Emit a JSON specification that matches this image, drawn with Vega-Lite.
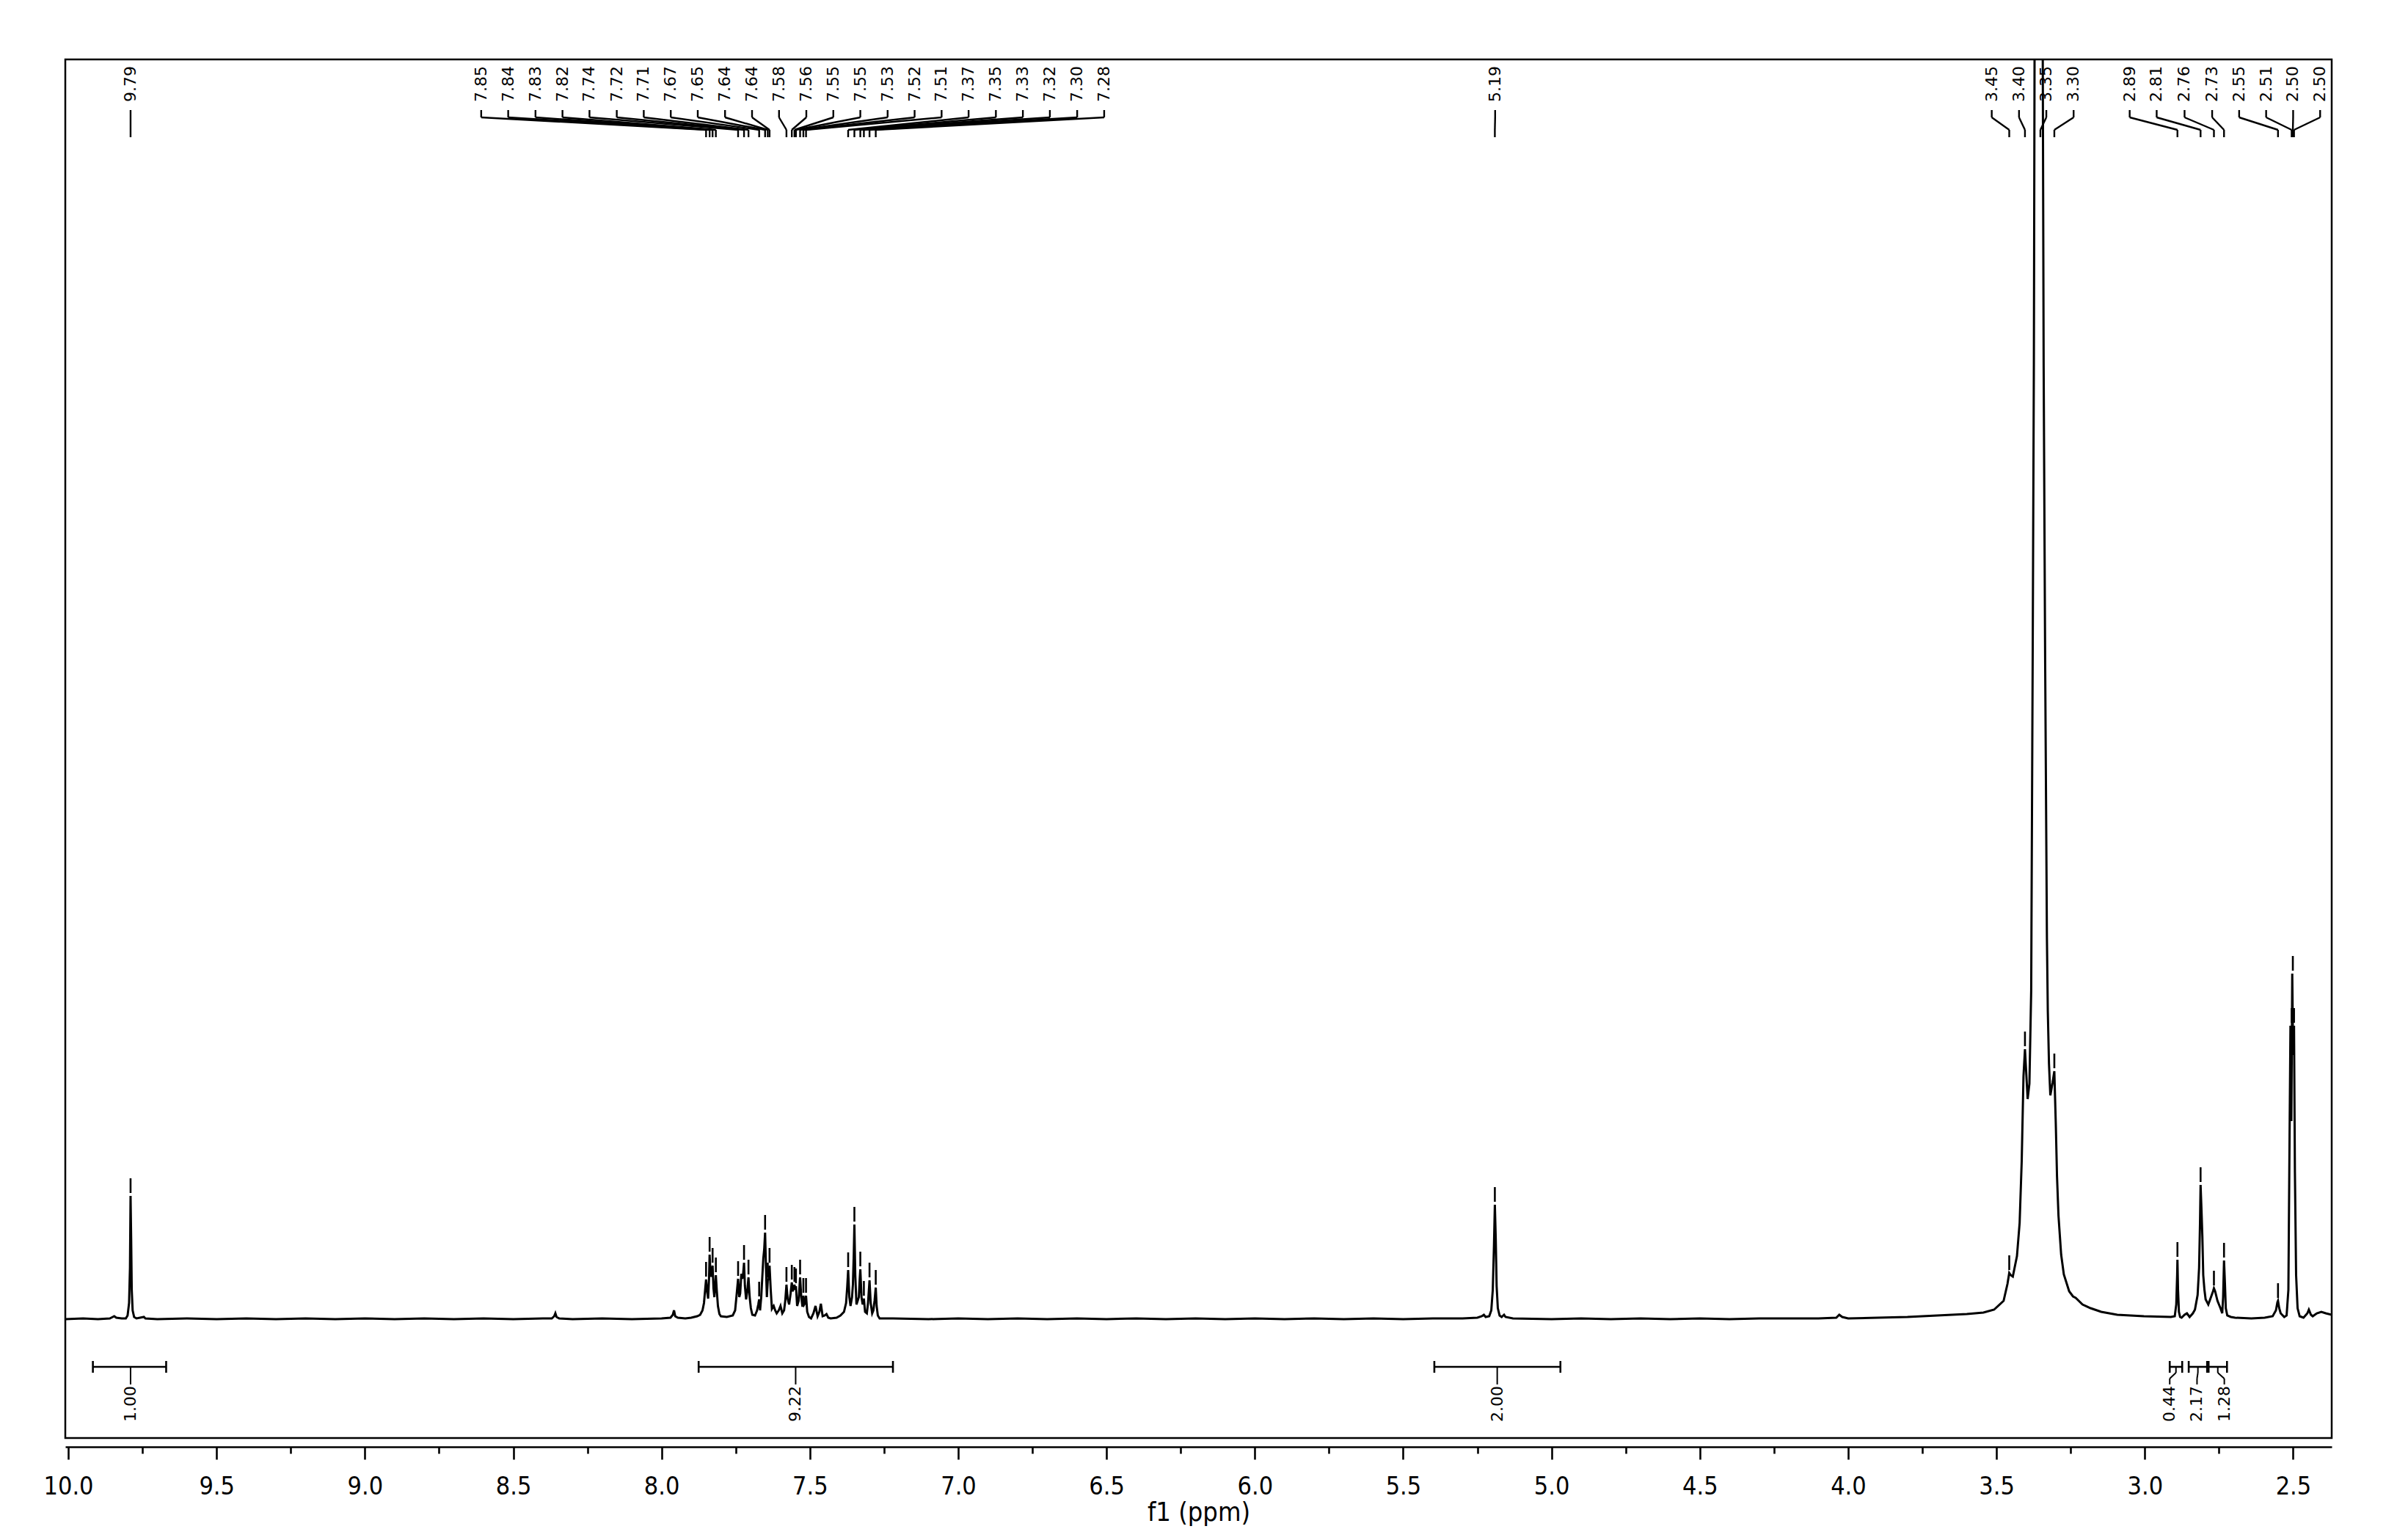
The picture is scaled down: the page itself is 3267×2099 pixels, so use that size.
{
  "$schema": "https://vega.github.io/schema/vega-lite/v6.json",
  "width": 3089,
  "height": 1879,
  "autosize": {"type": "none"},
  "padding": {"left": 89, "top": 81, "right": 89, "bottom": 139},
  "background": "white",
  "config": {
    "view": {"stroke": "black", "strokeWidth": 2.5}
  },
  "datasets": {
    "spectrum": [
      {"ppm": 10.01, "intensity": 0}, {"ppm": 9.95, "intensity": 1}, {"ppm": 9.9, "intensity": 0}, {"ppm": 9.86, "intensity": 1},
      {"ppm": 9.845, "intensity": 4}, {"ppm": 9.838, "intensity": 2}, {"ppm": 9.82, "intensity": 1}, {"ppm": 9.806, "intensity": 1},
      {"ppm": 9.8, "intensity": 5}, {"ppm": 9.795, "intensity": 22}, {"ppm": 9.792, "intensity": 70}, {"ppm": 9.79, "intensity": 168},
      {"ppm": 9.788, "intensity": 110}, {"ppm": 9.786, "intensity": 40}, {"ppm": 9.783, "intensity": 12}, {"ppm": 9.778, "intensity": 3},
      {"ppm": 9.77, "intensity": 1}, {"ppm": 9.745, "intensity": 3}, {"ppm": 9.74, "intensity": 1}, {"ppm": 9.7, "intensity": 0},
      {"ppm": 9.6, "intensity": 1}, {"ppm": 9.5, "intensity": 0}, {"ppm": 9.4, "intensity": 1}, {"ppm": 9.3, "intensity": 0},
      {"ppm": 9.2, "intensity": 1}, {"ppm": 9.1, "intensity": 0}, {"ppm": 9.0, "intensity": 1}, {"ppm": 8.9, "intensity": 0},
      {"ppm": 8.8, "intensity": 1}, {"ppm": 8.7, "intensity": 0}, {"ppm": 8.6, "intensity": 1}, {"ppm": 8.5, "intensity": 0},
      {"ppm": 8.4, "intensity": 1}, {"ppm": 8.37, "intensity": 1}, {"ppm": 8.362, "intensity": 4}, {"ppm": 8.358, "intensity": 8},
      {"ppm": 8.354, "intensity": 3}, {"ppm": 8.345, "intensity": 1}, {"ppm": 8.3, "intensity": 0}, {"ppm": 8.2, "intensity": 1},
      {"ppm": 8.1, "intensity": 0}, {"ppm": 8.0, "intensity": 1}, {"ppm": 7.97, "intensity": 2}, {"ppm": 7.962, "intensity": 6},
      {"ppm": 7.958, "intensity": 12}, {"ppm": 7.954, "intensity": 4}, {"ppm": 7.945, "intensity": 2}, {"ppm": 7.92, "intensity": 1},
      {"ppm": 7.9, "intensity": 2}, {"ppm": 7.88, "intensity": 4}, {"ppm": 7.87, "intensity": 6}, {"ppm": 7.862, "intensity": 12},
      {"ppm": 7.857, "intensity": 22}, {"ppm": 7.852, "intensity": 45}, {"ppm": 7.85, "intensity": 54}, {"ppm": 7.847, "intensity": 40},
      {"ppm": 7.843, "intensity": 28}, {"ppm": 7.84, "intensity": 55}, {"ppm": 7.838, "intensity": 88}, {"ppm": 7.835, "intensity": 62},
      {"ppm": 7.832, "intensity": 58}, {"ppm": 7.828, "intensity": 73}, {"ppm": 7.825, "intensity": 42}, {"ppm": 7.822, "intensity": 30},
      {"ppm": 7.819, "intensity": 48}, {"ppm": 7.817, "intensity": 60}, {"ppm": 7.814, "intensity": 40}, {"ppm": 7.81, "intensity": 18},
      {"ppm": 7.805, "intensity": 7}, {"ppm": 7.8, "intensity": 4}, {"ppm": 7.78, "intensity": 3}, {"ppm": 7.76, "intensity": 5},
      {"ppm": 7.752, "intensity": 12}, {"ppm": 7.747, "intensity": 33}, {"ppm": 7.742, "intensity": 55}, {"ppm": 7.738, "intensity": 30},
      {"ppm": 7.735, "intensity": 35}, {"ppm": 7.731, "intensity": 62}, {"ppm": 7.728, "intensity": 55}, {"ppm": 7.725, "intensity": 62},
      {"ppm": 7.722, "intensity": 77}, {"ppm": 7.719, "intensity": 45}, {"ppm": 7.715, "intensity": 27}, {"ppm": 7.711, "intensity": 38},
      {"ppm": 7.707, "intensity": 57}, {"ppm": 7.703, "intensity": 30}, {"ppm": 7.699, "intensity": 15}, {"ppm": 7.694, "intensity": 6},
      {"ppm": 7.685, "intensity": 5}, {"ppm": 7.678, "intensity": 12}, {"ppm": 7.674, "intensity": 20}, {"ppm": 7.671, "intensity": 27},
      {"ppm": 7.668, "intensity": 12}, {"ppm": 7.664, "intensity": 30}, {"ppm": 7.661, "intensity": 53}, {"ppm": 7.657, "intensity": 83},
      {"ppm": 7.654, "intensity": 95}, {"ppm": 7.651, "intensity": 118}, {"ppm": 7.648, "intensity": 70}, {"ppm": 7.645, "intensity": 30},
      {"ppm": 7.642, "intensity": 53}, {"ppm": 7.639, "intensity": 55}, {"ppm": 7.636, "intensity": 73}, {"ppm": 7.632, "intensity": 40},
      {"ppm": 7.628, "intensity": 14}, {"ppm": 7.622, "intensity": 18}, {"ppm": 7.617, "intensity": 12}, {"ppm": 7.612, "intensity": 8},
      {"ppm": 7.605, "intensity": 12}, {"ppm": 7.599, "intensity": 18}, {"ppm": 7.593, "intensity": 8}, {"ppm": 7.587, "intensity": 12},
      {"ppm": 7.583, "intensity": 25}, {"ppm": 7.579, "intensity": 47}, {"ppm": 7.575, "intensity": 28}, {"ppm": 7.57, "intensity": 20},
      {"ppm": 7.565, "intensity": 35}, {"ppm": 7.561, "intensity": 50}, {"ppm": 7.558, "intensity": 38}, {"ppm": 7.555, "intensity": 42},
      {"ppm": 7.552, "intensity": 47}, {"ppm": 7.549, "intensity": 40}, {"ppm": 7.547, "intensity": 45}, {"ppm": 7.543, "intensity": 18},
      {"ppm": 7.538, "intensity": 25}, {"ppm": 7.533, "intensity": 57}, {"ppm": 7.529, "intensity": 30}, {"ppm": 7.525, "intensity": 17},
      {"ppm": 7.522, "intensity": 32}, {"ppm": 7.519, "intensity": 20}, {"ppm": 7.516, "intensity": 22}, {"ppm": 7.513, "intensity": 32},
      {"ppm": 7.509, "intensity": 10}, {"ppm": 7.503, "intensity": 3}, {"ppm": 7.496, "intensity": 1}, {"ppm": 7.488, "intensity": 8},
      {"ppm": 7.481, "intensity": 18}, {"ppm": 7.474, "intensity": 4}, {"ppm": 7.468, "intensity": 10}, {"ppm": 7.463, "intensity": 21},
      {"ppm": 7.457, "intensity": 4}, {"ppm": 7.45, "intensity": 5}, {"ppm": 7.444, "intensity": 7}, {"ppm": 7.438, "intensity": 2},
      {"ppm": 7.43, "intensity": 1}, {"ppm": 7.41, "intensity": 2}, {"ppm": 7.397, "intensity": 5}, {"ppm": 7.385, "intensity": 10},
      {"ppm": 7.378, "intensity": 22}, {"ppm": 7.374, "intensity": 45}, {"ppm": 7.371, "intensity": 67}, {"ppm": 7.367, "intensity": 30},
      {"ppm": 7.363, "intensity": 18}, {"ppm": 7.358, "intensity": 30}, {"ppm": 7.355, "intensity": 47}, {"ppm": 7.352, "intensity": 90},
      {"ppm": 7.35, "intensity": 129}, {"ppm": 7.347, "intensity": 60}, {"ppm": 7.343, "intensity": 20}, {"ppm": 7.339, "intensity": 25},
      {"ppm": 7.335, "intensity": 30}, {"ppm": 7.332, "intensity": 55}, {"ppm": 7.33, "intensity": 68}, {"ppm": 7.326, "intensity": 30},
      {"ppm": 7.322, "intensity": 20}, {"ppm": 7.318, "intensity": 28}, {"ppm": 7.314, "intensity": 10}, {"ppm": 7.308, "intensity": 8},
      {"ppm": 7.304, "intensity": 22}, {"ppm": 7.299, "intensity": 53}, {"ppm": 7.295, "intensity": 22}, {"ppm": 7.29, "intensity": 8},
      {"ppm": 7.286, "intensity": 12}, {"ppm": 7.282, "intensity": 25}, {"ppm": 7.278, "intensity": 43}, {"ppm": 7.275, "intensity": 18},
      {"ppm": 7.271, "intensity": 5}, {"ppm": 7.265, "intensity": 1}, {"ppm": 7.22, "intensity": 1}, {"ppm": 7.1, "intensity": 0},
      {"ppm": 7.0, "intensity": 1}, {"ppm": 6.9, "intensity": 0}, {"ppm": 6.8, "intensity": 1}, {"ppm": 6.7, "intensity": 0},
      {"ppm": 6.6, "intensity": 1}, {"ppm": 6.5, "intensity": 0}, {"ppm": 6.4, "intensity": 1}, {"ppm": 6.3, "intensity": 0},
      {"ppm": 6.2, "intensity": 1}, {"ppm": 6.1, "intensity": 0}, {"ppm": 6.0, "intensity": 1}, {"ppm": 5.9, "intensity": 0},
      {"ppm": 5.8, "intensity": 1}, {"ppm": 5.7, "intensity": 0}, {"ppm": 5.6, "intensity": 1}, {"ppm": 5.5, "intensity": 0},
      {"ppm": 5.4, "intensity": 1}, {"ppm": 5.3, "intensity": 1}, {"ppm": 5.25, "intensity": 2}, {"ppm": 5.235, "intensity": 4},
      {"ppm": 5.228, "intensity": 6}, {"ppm": 5.222, "intensity": 3}, {"ppm": 5.21, "intensity": 4}, {"ppm": 5.203, "intensity": 12},
      {"ppm": 5.198, "intensity": 40}, {"ppm": 5.194, "intensity": 100}, {"ppm": 5.191, "intensity": 156}, {"ppm": 5.188, "intensity": 110},
      {"ppm": 5.185, "intensity": 45}, {"ppm": 5.181, "intensity": 15}, {"ppm": 5.175, "intensity": 5}, {"ppm": 5.168, "intensity": 3},
      {"ppm": 5.16, "intensity": 6}, {"ppm": 5.155, "intensity": 3}, {"ppm": 5.13, "intensity": 1}, {"ppm": 5.0, "intensity": 0},
      {"ppm": 4.9, "intensity": 1}, {"ppm": 4.8, "intensity": 0}, {"ppm": 4.7, "intensity": 1}, {"ppm": 4.6, "intensity": 0},
      {"ppm": 4.5, "intensity": 1}, {"ppm": 4.4, "intensity": 0}, {"ppm": 4.3, "intensity": 1}, {"ppm": 4.2, "intensity": 1},
      {"ppm": 4.1, "intensity": 1}, {"ppm": 4.04, "intensity": 2}, {"ppm": 4.03, "intensity": 6}, {"ppm": 4.02, "intensity": 3},
      {"ppm": 4.0, "intensity": 1}, {"ppm": 3.9, "intensity": 2}, {"ppm": 3.8, "intensity": 3}, {"ppm": 3.75, "intensity": 4},
      {"ppm": 3.7, "intensity": 5}, {"ppm": 3.65, "intensity": 6}, {"ppm": 3.6, "intensity": 7}, {"ppm": 3.544, "intensity": 9},
      {"ppm": 3.508, "intensity": 13}, {"ppm": 3.476, "intensity": 25}, {"ppm": 3.463, "intensity": 48}, {"ppm": 3.457, "intensity": 63},
      {"ppm": 3.452, "intensity": 60}, {"ppm": 3.445, "intensity": 58}, {"ppm": 3.431, "intensity": 86}, {"ppm": 3.422, "intensity": 131},
      {"ppm": 3.415, "intensity": 215}, {"ppm": 3.409, "intensity": 331}, {"ppm": 3.404, "intensity": 368}, {"ppm": 3.4, "intensity": 338},
      {"ppm": 3.395, "intensity": 300}, {"ppm": 3.389, "intensity": 321}, {"ppm": 3.383, "intensity": 448}, {"ppm": 3.378, "intensity": 900},
      {"ppm": 3.374, "intensity": 1300}, {"ppm": 3.369, "intensity": 2200}, {"ppm": 3.363, "intensity": 3500}, {"ppm": 3.357, "intensity": 4500},
      {"ppm": 3.351, "intensity": 3500}, {"ppm": 3.346, "intensity": 2000}, {"ppm": 3.341, "intensity": 1300}, {"ppm": 3.336, "intensity": 900},
      {"ppm": 3.33, "intensity": 520}, {"ppm": 3.327, "intensity": 420}, {"ppm": 3.323, "intensity": 348}, {"ppm": 3.3185, "intensity": 305},
      {"ppm": 3.311, "intensity": 322}, {"ppm": 3.305, "intensity": 338}, {"ppm": 3.3, "intensity": 265}, {"ppm": 3.296, "intensity": 195},
      {"ppm": 3.291, "intensity": 141}, {"ppm": 3.282, "intensity": 88}, {"ppm": 3.273, "intensity": 61}, {"ppm": 3.255, "intensity": 38},
      {"ppm": 3.242, "intensity": 31}, {"ppm": 3.233, "intensity": 29}, {"ppm": 3.21, "intensity": 20}, {"ppm": 3.183, "intensity": 15},
      {"ppm": 3.147, "intensity": 10}, {"ppm": 3.093, "intensity": 6}, {"ppm": 3.003, "intensity": 4}, {"ppm": 2.912, "intensity": 3},
      {"ppm": 2.899, "intensity": 4}, {"ppm": 2.894, "intensity": 20}, {"ppm": 2.891, "intensity": 60}, {"ppm": 2.89, "intensity": 81},
      {"ppm": 2.888, "intensity": 40}, {"ppm": 2.885, "intensity": 10}, {"ppm": 2.881, "intensity": 3}, {"ppm": 2.876, "intensity": 2},
      {"ppm": 2.866, "intensity": 6}, {"ppm": 2.858, "intensity": 8}, {"ppm": 2.849, "intensity": 3}, {"ppm": 2.838, "intensity": 8},
      {"ppm": 2.831, "intensity": 13}, {"ppm": 2.822, "intensity": 33}, {"ppm": 2.817, "intensity": 70}, {"ppm": 2.814, "intensity": 130},
      {"ppm": 2.812, "intensity": 183}, {"ppm": 2.809, "intensity": 150}, {"ppm": 2.806, "intensity": 113}, {"ppm": 2.803, "intensity": 60},
      {"ppm": 2.799, "intensity": 40}, {"ppm": 2.795, "intensity": 27}, {"ppm": 2.786, "intensity": 20}, {"ppm": 2.777, "intensity": 30},
      {"ppm": 2.77, "intensity": 38}, {"ppm": 2.767, "intensity": 42}, {"ppm": 2.763, "intensity": 38}, {"ppm": 2.755, "intensity": 25},
      {"ppm": 2.745, "intensity": 15}, {"ppm": 2.739, "intensity": 8}, {"ppm": 2.736, "intensity": 30}, {"ppm": 2.733, "intensity": 80},
      {"ppm": 2.73, "intensity": 50}, {"ppm": 2.727, "intensity": 15}, {"ppm": 2.722, "intensity": 5}, {"ppm": 2.71, "intensity": 3},
      {"ppm": 2.696, "intensity": 2}, {"ppm": 2.641, "intensity": 1}, {"ppm": 2.596, "intensity": 2}, {"ppm": 2.569, "intensity": 4},
      {"ppm": 2.558, "intensity": 12}, {"ppm": 2.553, "intensity": 23}, {"ppm": 2.551, "intensity": 25}, {"ppm": 2.547, "intensity": 15},
      {"ppm": 2.542, "intensity": 8}, {"ppm": 2.53, "intensity": 3}, {"ppm": 2.522, "intensity": 5}, {"ppm": 2.516, "intensity": 40},
      {"ppm": 2.512, "intensity": 250}, {"ppm": 2.509, "intensity": 400}, {"ppm": 2.506, "intensity": 270}, {"ppm": 2.503, "intensity": 471},
      {"ppm": 2.5, "intensity": 360}, {"ppm": 2.497, "intensity": 400}, {"ppm": 2.494, "intensity": 200}, {"ppm": 2.49, "intensity": 60},
      {"ppm": 2.485, "intensity": 15}, {"ppm": 2.478, "intensity": 4}, {"ppm": 2.465, "intensity": 2}, {"ppm": 2.452, "intensity": 8},
      {"ppm": 2.447, "intensity": 13}, {"ppm": 2.44, "intensity": 6}, {"ppm": 2.434, "intensity": 4}, {"ppm": 2.42, "intensity": 8},
      {"ppm": 2.405, "intensity": 10}, {"ppm": 2.39, "intensity": 8}, {"ppm": 2.37, "intensity": 6}
    ],
    "peaks": [
      {"label": "9.79", "lx": 9.79, "px": 9.79, "top": 168},
      {"label": "7.85", "lx": 8.608, "px": 7.85, "top": 54},
      {"label": "7.84", "lx": 8.517, "px": 7.838, "top": 88},
      {"label": "7.83", "lx": 8.425, "px": 7.828, "top": 73},
      {"label": "7.82", "lx": 8.334, "px": 7.817, "top": 60},
      {"label": "7.74", "lx": 8.243, "px": 7.742, "top": 55},
      {"label": "7.72", "lx": 8.151, "px": 7.722, "top": 77},
      {"label": "7.71", "lx": 8.06, "px": 7.707, "top": 57},
      {"label": "7.67", "lx": 7.969, "px": 7.671, "top": 27},
      {"label": "7.65", "lx": 7.878, "px": 7.651, "top": 118},
      {"label": "7.64", "lx": 7.786, "px": 7.642, "top": 53},
      {"label": "7.64", "lx": 7.695, "px": 7.636, "top": 73},
      {"label": "7.58", "lx": 7.604, "px": 7.579, "top": 47},
      {"label": "7.56", "lx": 7.512, "px": 7.561, "top": 50},
      {"label": "7.55", "lx": 7.421, "px": 7.552, "top": 47},
      {"label": "7.55", "lx": 7.33, "px": 7.547, "top": 45},
      {"label": "7.53", "lx": 7.238, "px": 7.533, "top": 57},
      {"label": "7.52", "lx": 7.147, "px": 7.522, "top": 32},
      {"label": "7.51", "lx": 7.056, "px": 7.513, "top": 32},
      {"label": "7.37", "lx": 6.965, "px": 7.371, "top": 67},
      {"label": "7.35", "lx": 6.873, "px": 7.35, "top": 129},
      {"label": "7.33", "lx": 6.782, "px": 7.33, "top": 68},
      {"label": "7.32", "lx": 6.691, "px": 7.318, "top": 28},
      {"label": "7.30", "lx": 6.599, "px": 7.299, "top": 53},
      {"label": "7.28", "lx": 6.508, "px": 7.278, "top": 43},
      {"label": "5.19", "lx": 5.19, "px": 5.191, "top": 156},
      {"label": "3.45", "lx": 3.516, "px": 3.457, "top": 63},
      {"label": "3.40", "lx": 3.424, "px": 3.404, "top": 368},
      {"label": "3.35", "lx": 3.332, "px": 3.352, "top": 4000},
      {"label": "3.30", "lx": 3.24, "px": 3.305, "top": 338},
      {"label": "2.89", "lx": 3.051, "px": 2.89, "top": 81},
      {"label": "2.81", "lx": 2.96, "px": 2.812, "top": 183},
      {"label": "2.76", "lx": 2.866, "px": 2.767, "top": 42},
      {"label": "2.73", "lx": 2.773, "px": 2.733, "top": 80},
      {"label": "2.55", "lx": 2.682, "px": 2.551, "top": 25},
      {"label": "2.51", "lx": 2.591, "px": 2.505, "top": 400},
      {"label": "2.50", "lx": 2.5, "px": 2.501, "top": 471},
      {"label": "2.50", "lx": 2.409, "px": 2.497, "top": 400}
    ],
    "integrals": [
      {"label": "1.00", "from": 9.917, "to": 9.67, "cx": 9.79, "lx": 9.79},
      {"label": "9.22", "from": 7.875, "to": 7.22, "cx": 7.548, "lx": 7.548},
      {"label": "2.00", "from": 5.395, "to": 4.97, "cx": 5.183, "lx": 5.183},
      {"label": "0.44", "from": 2.916, "to": 2.874, "cx": 2.895, "lx": 2.916},
      {"label": "2.17", "from": 2.852, "to": 2.79, "cx": 2.821, "lx": 2.824},
      {"label": "1.28", "from": 2.785, "to": 2.723, "cx": 2.754, "lx": 2.732}
    ]
  },
  "layer": [
    {
      "data": {"name": "spectrum"},
      "mark": {"type": "line", "color": "black", "strokeWidth": 3, "clip": true, "interpolate": "linear"},
      "encoding": {
        "x": {
          "field": "ppm", "type": "quantitative", "title": "f1 (ppm)",
          "scale": {"domain": [2.37, 10.01], "reverse": true, "nice": false, "zero": false},
          "axis": {
            "values": [2.5, 2.75, 3.0, 3.25, 3.5, 3.75, 4.0, 4.25, 4.5, 4.75, 5.0, 5.25, 5.5, 5.75, 6.0, 6.25, 6.5, 6.75, 7.0, 7.25, 7.5, 7.75, 8.0, 8.25, 8.5, 8.75, 9.0, 9.25, 9.5, 9.75, 10.0],
            "labelExpr": "abs(datum.value * 2 - round(datum.value * 2)) < 0.001 ? format(datum.value, '.1f') : ''",
            "offset": 12,
            "grid": false,
            "domainColor": "black", "domainWidth": 2.6,
            "tickColor": "black", "tickWidth": 2.6,
            "tickSize": {"condition": {"test": "abs(datum.value * 2 - round(datum.value * 2)) < 0.001", "value": 17}, "value": 9},
            "labelPadding": 20,
            "labelFont": "DejaVu Sans Condensed, DejaVu Sans", "labelFontSize": 34, "labelColor": "black",
            "labelOverlap": false, "labelFlush": false,
            "titleFont": "DejaVu Sans Condensed, DejaVu Sans", "titleFontSize": 36, "titleFontWeight": "normal", "titleColor": "black",
            "titlePadding": 1
          }
        },
        "y": {"field": "intensity", "type": "quantitative", "scale": {"domain": [-162, 1717], "nice": false, "zero": false}, "axis": null}
      }
    },
    {
      "data": {"name": "peaks"},
      "mark": {"type": "rule", "color": "black", "strokeWidth": 2.6, "yOffset": -4, "y2Offset": -24, "clip": true},
      "encoding": {
        "x": {"field": "px", "type": "quantitative", "title": "f1 (ppm)"},
        "y": {"field": "top", "type": "quantitative", "axis": null},
        "y2": {"field": "top"}
      }
    },
    {
      "data": {"name": "peaks"},
      "mark": {"type": "rule", "color": "black", "strokeWidth": 2.4},
      "encoding": {
        "x": {"field": "lx", "type": "quantitative", "title": "f1 (ppm)"},
        "y": {"datum": 1648, "type": "quantitative", "axis": null},
        "y2": {"datum": 1638}
      }
    },
    {
      "data": {"name": "peaks"},
      "mark": {"type": "rule", "color": "black", "strokeWidth": 2.4},
      "encoding": {
        "x": {"field": "lx", "type": "quantitative", "title": "f1 (ppm)"},
        "x2": {"field": "px"},
        "y": {"datum": 1638, "type": "quantitative", "axis": null},
        "y2": {"datum": 1621}
      }
    },
    {
      "data": {"name": "peaks"},
      "mark": {"type": "rule", "color": "black", "strokeWidth": 2.4},
      "encoding": {
        "x": {"field": "px", "type": "quantitative", "title": "f1 (ppm)"},
        "y": {"datum": 1621, "type": "quantitative", "axis": null},
        "y2": {"datum": 1611}
      }
    },
    {
      "data": {"name": "peaks"},
      "mark": {"type": "text", "angle": 270, "align": "left", "baseline": "middle", "font": "DejaVu Sans", "fontSize": 22, "color": "black"},
      "encoding": {
        "x": {"field": "lx", "type": "quantitative", "title": "f1 (ppm)"},
        "y": {"datum": 1659, "type": "quantitative", "axis": null},
        "text": {"field": "label"}
      }
    },
    {
      "data": {"name": "integrals"},
      "mark": {"type": "rule", "color": "black", "strokeWidth": 2.6},
      "encoding": {
        "x": {"field": "from", "type": "quantitative", "title": "f1 (ppm)"},
        "x2": {"field": "to"},
        "y": {"datum": -65, "type": "quantitative", "axis": null}
      }
    },
    {
      "data": {"name": "integrals"},
      "mark": {"type": "rule", "color": "black", "strokeWidth": 2.6},
      "encoding": {
        "x": {"field": "from", "type": "quantitative", "title": "f1 (ppm)"},
        "y": {"datum": -57, "type": "quantitative", "axis": null},
        "y2": {"datum": -73}
      }
    },
    {
      "data": {"name": "integrals"},
      "mark": {"type": "rule", "color": "black", "strokeWidth": 2.6},
      "encoding": {
        "x": {"field": "to", "type": "quantitative", "title": "f1 (ppm)"},
        "y": {"datum": -57, "type": "quantitative", "axis": null},
        "y2": {"datum": -73}
      }
    },
    {
      "data": {"name": "integrals"},
      "mark": {"type": "rule", "color": "black", "strokeWidth": 2},
      "encoding": {
        "x": {"field": "cx", "type": "quantitative", "title": "f1 (ppm)"},
        "y": {"datum": -65, "type": "quantitative", "axis": null},
        "y2": {"datum": -73}
      }
    },
    {
      "data": {"name": "integrals"},
      "mark": {"type": "rule", "color": "black", "strokeWidth": 2},
      "encoding": {
        "x": {"field": "cx", "type": "quantitative", "title": "f1 (ppm)"},
        "x2": {"field": "lx"},
        "y": {"datum": -73, "type": "quantitative", "axis": null},
        "y2": {"datum": -81}
      }
    },
    {
      "data": {"name": "integrals"},
      "mark": {"type": "rule", "color": "black", "strokeWidth": 2},
      "encoding": {
        "x": {"field": "lx", "type": "quantitative", "title": "f1 (ppm)"},
        "y": {"datum": -81, "type": "quantitative", "axis": null},
        "y2": {"datum": -89}
      }
    },
    {
      "data": {"name": "integrals"},
      "mark": {"type": "text", "angle": 270, "align": "right", "baseline": "middle", "font": "DejaVu Sans", "fontSize": 22, "color": "black"},
      "encoding": {
        "x": {"field": "lx", "type": "quantitative", "title": "f1 (ppm)"},
        "y": {"datum": -91, "type": "quantitative", "axis": null},
        "text": {"field": "label"}
      }
    }
  ]
}
